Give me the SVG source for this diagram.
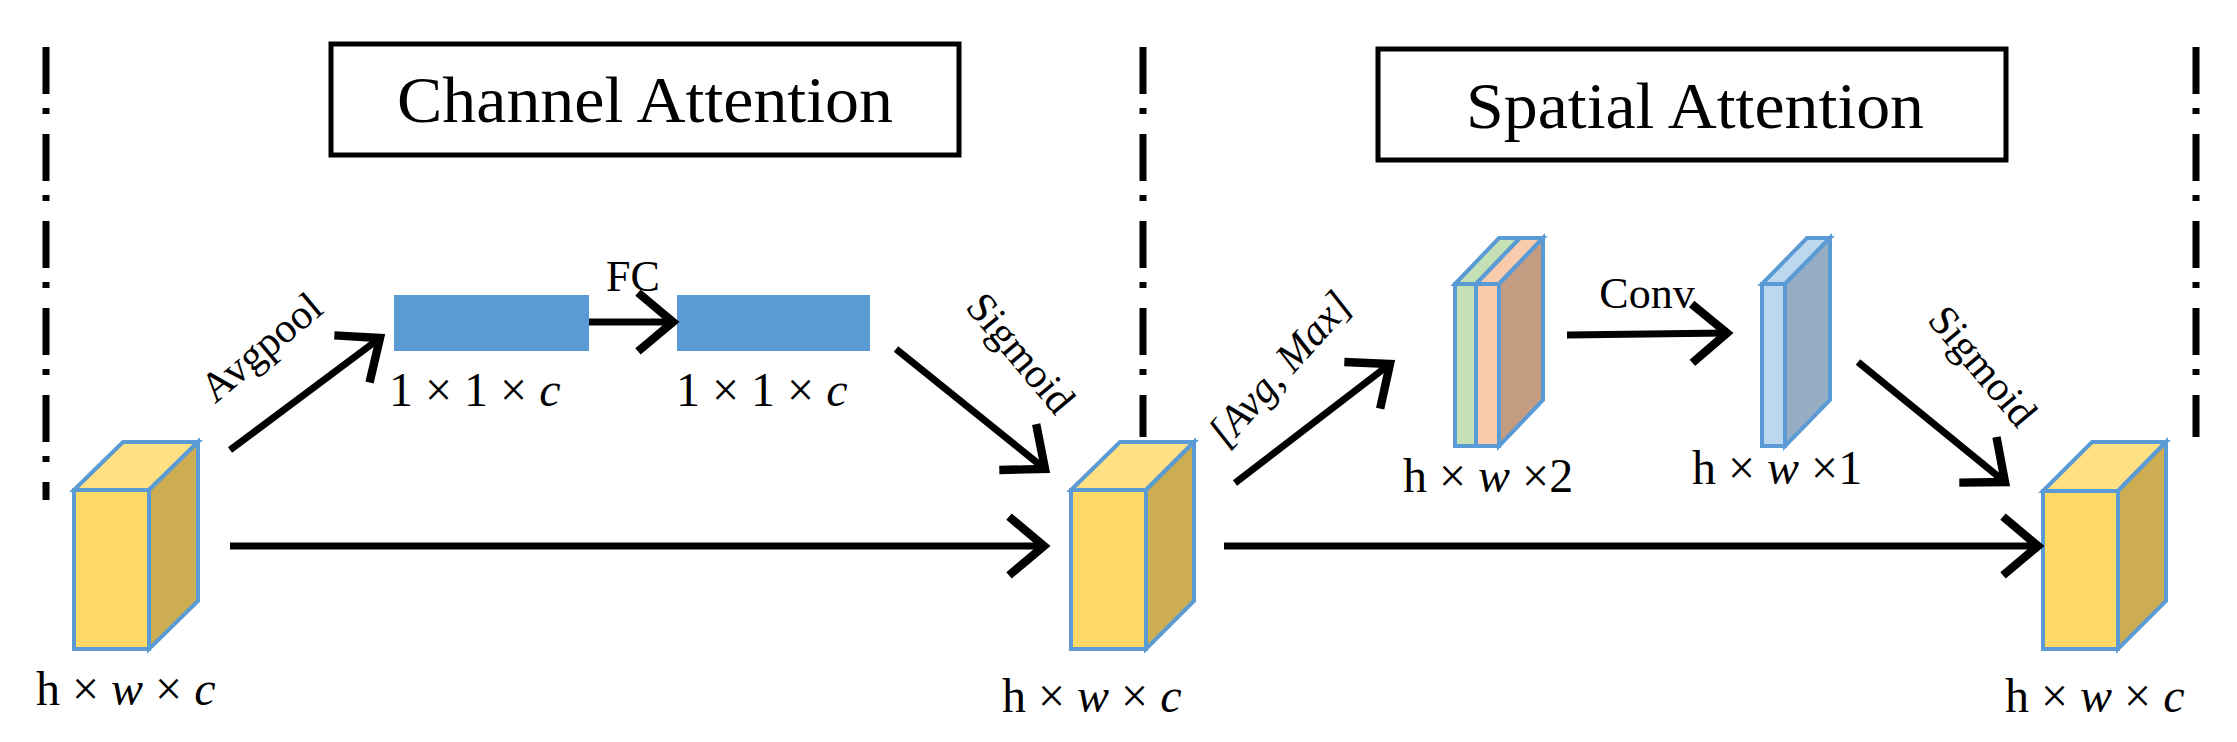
<svg xmlns="http://www.w3.org/2000/svg" width="2237" height="742" viewBox="0 0 2237 742">
<style>
.dd{stroke:#000;stroke-width:7;stroke-dasharray:47 14 6 20;fill:none}
.ar{stroke:#000;stroke-width:7;fill:none;marker-end:url(#ah)}
.t{font-family:"Liberation Serif",serif;fill:#000}
.m{font-family:"Liberation Serif",serif;font-size:48px;fill:#000}
.bx{fill:#fff;stroke:#000;stroke-width:5}
.cf{fill:#ffd966;stroke:#5b9bd5;stroke-width:4}
.ct{fill:#ffe082;stroke:#5b9bd5;stroke-width:4}
.cs{fill:#cdad52;stroke:#5b9bd5;stroke-width:4}
</style>
<defs>
<marker id="ah" markerWidth="8" markerHeight="10" refX="6" refY="5" orient="auto" markerUnits="strokeWidth">
<path d="M1,0.8 L6,5 L1,9.2" fill="none" stroke="#000" stroke-width="1.2"/>
</marker>
</defs>
<g id="dividers">
<line class="dd" x1="46" y1="47" x2="46" y2="500"/>
<line class="dd" x1="1143" y1="47" x2="1143" y2="437"/>
<line class="dd" x1="2196" y1="47" x2="2196" y2="437"/>
</g>
<g id="channel-title"><rect class="bx" x="331" y="44" width="628" height="111"/>
<text class="t" x="645" y="122" font-size="66" text-anchor="middle" textLength="496" lengthAdjust="spacingAndGlyphs">Channel Attention</text></g>
<g id="spatial-title"><rect class="bx" x="1378" y="49" width="628" height="111"/>
<text class="t" x="1695" y="128" font-size="66" text-anchor="middle" textLength="458" lengthAdjust="spacingAndGlyphs">Spatial Attention</text></g>
<g id="cube1">
<polygon class="ct" points="74,490 123,442 198,442 149,490"/>
<polygon class="cs" points="149,490 198,442 198,601 149,649"/>
<rect class="cf" x="74" y="490" width="75" height="159"/>
<text class="m" x="36" y="705">h × <tspan font-style="italic">w</tspan> × <tspan font-style="italic">c</tspan></text>
</g>
<g id="fc1"><rect x="394" y="295" width="195" height="56" fill="#5b9bd5"/>
<text class="m" x="389" y="406">1 × 1 × <tspan font-style="italic">c</tspan></text></g>
<g id="fc2"><rect x="677" y="295" width="193" height="56" fill="#5b9bd5"/>
<text class="m" x="676" y="406">1 × 1 × <tspan font-style="italic">c</tspan></text></g>
<g id="cube2">
<polygon class="ct" points="1071,490 1120,442 1194,442 1146,490"/>
<polygon class="cs" points="1146,490 1194,442 1194,601 1146,649"/>
<rect class="cf" x="1071" y="490" width="75" height="159"/>
<text class="m" x="1002" y="712">h × <tspan font-style="italic">w</tspan> × <tspan font-style="italic">c</tspan></text>
</g>
<g id="pool2">
<polygon points="1455,284 1499,238 1520,238 1476,284" fill="#c5e0b4" stroke="#5b9bd5" stroke-width="4"/>
<polygon points="1476,284 1520,238 1543,238 1499,284" fill="#f8cbad" stroke="#5b9bd5" stroke-width="4"/>
<polygon points="1499,284 1543,238 1543,400 1499,446" fill="#c49c82" stroke="#5b9bd5" stroke-width="4"/>
<rect x="1455" y="284" width="21" height="162" fill="#c5e0b4" stroke="#5b9bd5" stroke-width="4"/>
<rect x="1476" y="284" width="23" height="162" fill="#f8cbad" stroke="#5b9bd5" stroke-width="4"/>
<text class="m" x="1403" y="492">h × <tspan font-style="italic">w</tspan> ×2</text>
</g>
<g id="conv1">
<polygon points="1762,284 1807,238 1830,238 1785,284" fill="#bdd7ee" stroke="#5b9bd5" stroke-width="4"/>
<polygon points="1785,284 1830,238 1830,400 1785,446" fill="#97adc4" stroke="#5b9bd5" stroke-width="4"/>
<rect x="1762" y="284" width="23" height="162" fill="#bdd7ee" stroke="#5b9bd5" stroke-width="4"/>
<text class="m" x="1692" y="484">h × <tspan font-style="italic">w</tspan> ×1</text>
</g>
<g id="cube3">
<polygon class="ct" points="2043,491 2092,442 2166,442 2118,491"/>
<polygon class="cs" points="2118,491 2166,442 2166,601 2118,649"/>
<rect class="cf" x="2043" y="491" width="75" height="158"/>
<text class="m" x="2005" y="712">h × <tspan font-style="italic">w</tspan> × <tspan font-style="italic">c</tspan></text>
</g>
<g id="connectors">
<line class="ar" x1="230" y1="450" x2="380" y2="338"/>
<line class="ar" x1="589" y1="322" x2="673" y2="322"/>
<line class="ar" x1="896" y1="349" x2="1045" y2="469"/>
<line class="ar" x1="230" y1="546" x2="1044" y2="546"/>
<line class="ar" x1="1235" y1="483" x2="1390" y2="364"/>
<line class="ar" x1="1567" y1="335" x2="1727" y2="333"/>
<line class="ar" x1="1858" y1="362" x2="2005" y2="482"/>
<line class="ar" x1="1224" y1="546" x2="2038" y2="546"/>
</g>
<g id="labels">
<text class="t" font-size="42" text-anchor="middle" transform="translate(270,358) rotate(-40)">Avgpool</text>
<text class="t" x="633" y="291" font-size="44" text-anchor="middle">FC</text>
<text class="t" font-size="42" text-anchor="middle" transform="translate(1010,362) rotate(50)">Sigmoid</text>
<text class="t" font-size="42" text-anchor="middle" font-style="italic" transform="translate(1290,378) rotate(-48)">[Avg, Max]</text>
<text class="t" x="1647" y="308" font-size="44" text-anchor="middle">Conv</text>
<text class="t" font-size="42" text-anchor="middle" transform="translate(1972,375) rotate(50)">Sigmoid</text>
</g>
</svg>
